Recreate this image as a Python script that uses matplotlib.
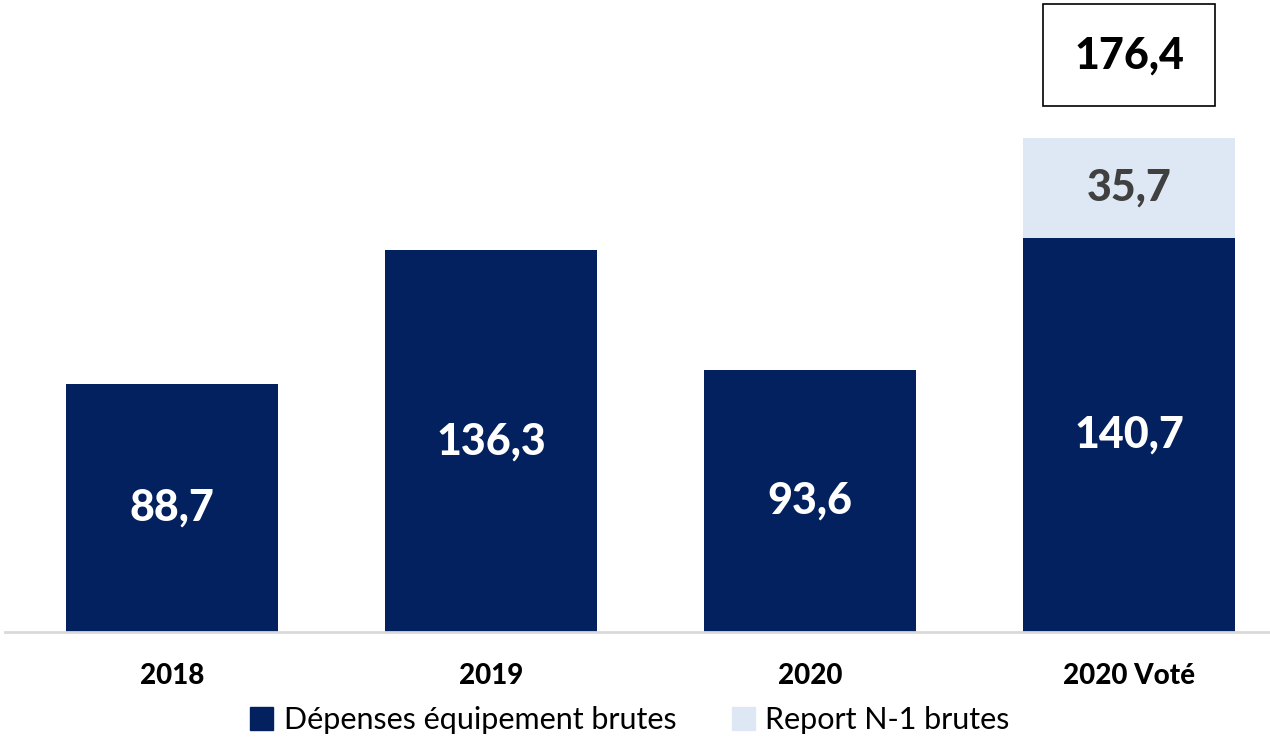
import matplotlib
matplotlib.use("Agg")
import matplotlib.pyplot as plt
from matplotlib.patches import Patch

categories = ["2018", "2019", "2020", "2020 Voté"]
depenses = [88.7, 136.3, 93.6, 140.7]
report = [0, 0, 0, 35.7]
total_label = "176,4"
series_names = ["Dépenses équipement brutes", "Report N-1 brutes"]

dark = "#03215E"
light = "#DDE8F4"

plt.rcParams['font.family'] = ['Lato', 'DejaVu Sans']

fig = plt.figure(figsize=(12.7, 7.38), dpi=100)
ax = fig.add_axes([5/1270, (738-632)/738, 1 - 5/1270, 632/738])

x = list(range(len(categories)))
w = 0.665
ax.bar(x, depenses, width=w, color=dark, zorder=2)
ax.bar(x, report, width=w, bottom=depenses, color=light, zorder=2)

def fmt(v):
    return f"{v:.1f}".replace(".", ",")

for xi, d, r in zip(x, depenses, report):
    ax.text(xi, d / 2, fmt(d), ha="center", va="center", color="white",
            fontsize=31, fontweight="black")
    if r > 0:
        ax.text(xi, d + r / 2, fmt(r), ha="center", va="center", color="#404040",
                fontsize=31, fontweight="black")
        ax.text(xi, 206, total_label, ha="center", va="center", color="black",
                fontsize=31, fontweight="black",
                bbox=dict(boxstyle="square,pad=0.72", fc="white", ec="black", lw=1.2))

ax.set_xlim((5 - 172) / 319, (1270 - 172) / 319)
ax.set_ylim(0, 632 / 2.8)
for s in ["top", "right", "left"]:
    ax.spines[s].set_visible(False)
ax.spines["bottom"].set_color("#D9D9D9")
ax.spines["bottom"].set_linewidth(2)
ax.set_yticks([])
ax.set_xticks(x)
ax.set_xticklabels(categories, fontsize=20, fontweight="black")
ax.tick_params(axis="x", length=0, pad=22)

handles = [Patch(color=dark), Patch(color=light)]
fig.legend(handles, series_names, loc="center", bbox_to_anchor=(630/1270, 1 - 720/738),
           ncol=2, frameon=False, fontsize=22, handlelength=0.75, handleheight=0.75,
           handletextpad=0.35, columnspacing=1.8)

fig.savefig("out.png", dpi=100)
